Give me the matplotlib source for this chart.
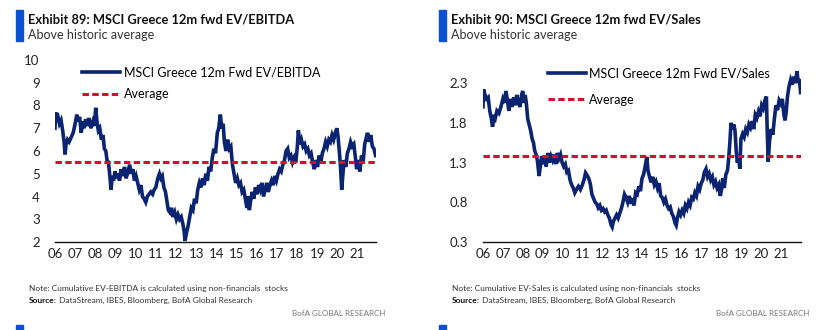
import matplotlib
matplotlib.use('Agg')
import matplotlib.pyplot as plt
from matplotlib.patches import Rectangle
from matplotlib.ticker import FormatStrFormatter

# MSCI Greece 12m fwd EV/EBITDA (decimal year, multiple)
ebitda_t = [
    2006.00, 2006.03, 2006.08, 2006.15, 2006.22, 2006.30, 2006.38, 2006.45, 2006.50, 2006.55,
    2006.62, 2006.70, 2006.80, 2006.90, 2007.00, 2007.08, 2007.15, 2007.22, 2007.30, 2007.38,
    2007.45, 2007.52, 2007.60, 2007.68, 2007.78, 2007.88, 2007.95, 2008.02, 2008.08, 2008.15,
    2008.22, 2008.30, 2008.38, 2008.45, 2008.52, 2008.58, 2008.65, 2008.72, 2008.78, 2008.84,
    2008.90, 2008.98, 2009.05, 2009.12, 2009.20, 2009.28, 2009.35, 2009.45, 2009.52, 2009.60,
    2009.70, 2009.78, 2009.86, 2009.94, 2010.02, 2010.10, 2010.18, 2010.26, 2010.34, 2010.42,
    2010.50, 2010.58, 2010.66, 2010.75, 2010.84, 2010.92, 2011.00, 2011.10, 2011.18, 2011.25,
    2011.32, 2011.40, 2011.48, 2011.55, 2011.62, 2011.70, 2011.78, 2011.86, 2011.94, 2012.02,
    2012.10, 2012.18, 2012.26, 2012.34, 2012.40, 2012.45, 2012.52, 2012.60, 2012.68, 2012.76,
    2012.84, 2012.92, 2013.00, 2013.08, 2013.16, 2013.24, 2013.32, 2013.40, 2013.48, 2013.56,
    2013.64, 2013.72, 2013.80, 2013.88, 2013.96, 2014.05, 2014.12, 2014.20, 2014.27, 2014.34,
    2014.40, 2014.48, 2014.56, 2014.64, 2014.72, 2014.80, 2014.88, 2014.96, 2015.04, 2015.12,
    2015.20, 2015.28, 2015.36, 2015.44, 2015.52, 2015.58, 2015.64, 2015.70, 2015.78, 2015.86,
    2015.94, 2016.02, 2016.10, 2016.18, 2016.26, 2016.34, 2016.42, 2016.50, 2016.58, 2016.66,
    2016.74, 2016.82, 2016.90, 2016.98, 2017.06, 2017.14, 2017.22, 2017.30, 2017.38, 2017.46,
    2017.54, 2017.62, 2017.70, 2017.78, 2017.86, 2017.94, 2018.02, 2018.07, 2018.14, 2018.22,
    2018.30, 2018.38, 2018.46, 2018.54, 2018.62, 2018.70, 2018.78, 2018.86, 2018.94, 2019.02,
    2019.10, 2019.18, 2019.26, 2019.34, 2019.42, 2019.50, 2019.58, 2019.66, 2019.74, 2019.82,
    2019.90, 2019.98, 2020.04, 2020.10, 2020.16, 2020.22, 2020.28, 2020.34, 2020.42, 2020.50,
    2020.58, 2020.66, 2020.74, 2020.82, 2020.90, 2020.96, 2021.04, 2021.12, 2021.20, 2021.28,
    2021.36, 2021.44, 2021.50, 2021.58, 2021.66, 2021.74, 2021.82, 2021.90,
]
ebitda_v = [
    7.0, 7.7, 7.4, 7.5, 7.2, 7.35, 6.9, 6.4, 5.85, 6.3,
    6.5, 6.4, 6.6, 6.8, 7.2, 7.6, 7.3, 7.5, 6.8, 7.3,
    7.0, 7.4, 7.1, 7.45, 7.0, 7.3, 7.1, 7.9, 7.3, 6.9,
    7.0, 6.5, 6.7, 6.1, 6.0, 5.6, 5.5, 4.9, 4.3, 4.9,
    4.7, 5.1, 4.8, 5.0, 4.7, 5.2, 4.9, 5.3, 4.8, 5.0,
    5.4, 5.0, 5.2, 4.7, 4.9, 4.6, 4.3, 4.5, 4.0, 3.9,
    3.75, 4.0, 4.1, 4.2, 4.1, 4.3, 4.4, 4.8, 5.0, 4.8,
    4.9, 4.4, 4.2, 3.8, 3.4, 3.3, 3.5, 3.1, 3.3, 3.0,
    3.2, 3.0, 3.1, 2.8, 2.5, 2.05, 2.4, 2.7, 3.1, 3.5,
    3.4, 3.9, 3.7, 4.3, 4.6, 4.4, 4.8, 4.5, 5.0, 4.7,
    5.3, 5.1, 5.7, 6.1, 5.9, 6.8, 7.0, 7.6, 7.0, 7.2,
    6.4, 6.0, 6.5, 6.1, 6.2, 5.4, 5.0, 4.6, 4.8, 4.5,
    4.6, 4.2, 4.3, 3.9, 3.5, 4.0, 3.4, 3.8, 4.2, 3.9,
    4.4, 4.1, 4.5, 4.3, 4.6, 4.0, 4.3, 4.6, 4.2, 4.5,
    4.7, 4.5, 4.9, 4.7, 5.0, 5.2, 5.1, 5.4, 5.6, 6.0,
    6.1, 5.7, 5.8, 5.5, 5.7, 5.5, 6.2, 6.9, 6.3, 6.5,
    6.2, 6.3, 6.0, 6.1, 5.8, 5.9, 5.5, 5.2, 5.6, 5.3,
    5.8, 5.5, 5.9, 6.1, 6.4, 6.2, 6.5, 6.4, 6.7, 6.5,
    6.8, 7.0, 6.6, 6.0, 5.3, 4.3, 5.0, 5.6, 5.3, 5.9,
    6.1, 6.4, 6.2, 6.3, 5.7, 5.2, 5.6, 5.1, 5.8, 5.5,
    6.3, 6.6, 6.8, 6.4, 6.7, 6.2, 6.1, 5.8,
]
ebitda_avg = 5.5

# MSCI Greece 12m fwd EV/Sales (decimal year, multiple)
sales_t = [
    2006.00, 2006.03, 2006.10, 2006.18, 2006.26, 2006.34, 2006.42, 2006.48, 2006.55, 2006.62,
    2006.70, 2006.80, 2006.90, 2007.00, 2007.08, 2007.15, 2007.22, 2007.30, 2007.38, 2007.46,
    2007.55, 2007.62, 2007.70, 2007.78, 2007.86, 2007.94, 2008.00, 2008.06, 2008.12, 2008.18,
    2008.25, 2008.32, 2008.40, 2008.47, 2008.54, 2008.60, 2008.67, 2008.74, 2008.82, 2008.88,
    2008.95, 2009.02, 2009.10, 2009.18, 2009.26, 2009.34, 2009.42, 2009.50, 2009.58, 2009.66,
    2009.74, 2009.82, 2009.90, 2009.98, 2010.06, 2010.14, 2010.22, 2010.30, 2010.38, 2010.46,
    2010.54, 2010.62, 2010.70, 2010.80, 2010.90, 2011.00, 2011.08, 2011.16, 2011.24, 2011.32,
    2011.40, 2011.48, 2011.56, 2011.64, 2011.72, 2011.80, 2011.88, 2011.96, 2012.04, 2012.12,
    2012.20, 2012.28, 2012.36, 2012.44, 2012.50, 2012.56, 2012.64, 2012.72, 2012.80, 2012.88,
    2012.96, 2013.04, 2013.12, 2013.20, 2013.28, 2013.36, 2013.44, 2013.52, 2013.60, 2013.68,
    2013.76, 2013.84, 2013.92, 2014.00, 2014.08, 2014.16, 2014.24, 2014.30, 2014.38, 2014.46,
    2014.54, 2014.62, 2014.70, 2014.78, 2014.86, 2014.94, 2015.02, 2015.10, 2015.18, 2015.26,
    2015.34, 2015.42, 2015.50, 2015.58, 2015.66, 2015.72, 2015.78, 2015.86, 2015.94, 2016.02,
    2016.10, 2016.18, 2016.26, 2016.34, 2016.42, 2016.50, 2016.58, 2016.66, 2016.74, 2016.82,
    2016.90, 2016.98, 2017.06, 2017.14, 2017.22, 2017.30, 2017.38, 2017.46, 2017.54, 2017.62,
    2017.70, 2017.78, 2017.86, 2017.94, 2018.00, 2018.06, 2018.14, 2018.22, 2018.30, 2018.36,
    2018.42, 2018.48, 2018.54, 2018.62, 2018.68, 2018.74, 2018.80, 2018.86, 2018.92, 2018.98,
    2019.06, 2019.14, 2019.22, 2019.30, 2019.38, 2019.46, 2019.54, 2019.62, 2019.70, 2019.78,
    2019.86, 2019.94, 2020.02, 2020.10, 2020.18, 2020.26, 2020.30, 2020.35, 2020.42, 2020.50,
    2020.58, 2020.66, 2020.74, 2020.82, 2020.90, 2020.98, 2021.06, 2021.14, 2021.20, 2021.26,
    2021.32, 2021.40, 2021.48, 2021.56, 2021.64, 2021.72, 2021.80, 2021.86, 2021.92, 2021.98,
]
sales_v = [
    2.0, 2.22, 2.15, 2.1, 2.12, 1.95, 1.85, 1.75, 1.9, 1.86,
    1.95, 1.92, 2.0, 2.1, 2.05, 2.2, 2.1, 1.95, 2.1, 2.0,
    2.12, 2.02, 2.15, 2.05, 2.0, 2.15, 2.2, 2.05, 2.15, 2.05,
    1.85, 1.78, 1.7, 1.6, 1.55, 1.45, 1.4, 1.32, 1.13, 1.25,
    1.38, 1.28, 1.35, 1.25, 1.42, 1.3, 1.38, 1.33, 1.4, 1.28,
    1.42, 1.35, 1.4, 1.3, 1.25, 1.28, 1.18, 1.2, 1.08, 1.02,
    0.98, 0.92, 0.96, 1.0, 0.96, 1.02, 1.08, 1.17, 1.14, 1.1,
    1.03, 0.9, 0.85, 0.8, 0.78, 0.73, 0.76, 0.7, 0.72, 0.68,
    0.7, 0.64, 0.6, 0.52, 0.49, 0.56, 0.6, 0.64, 0.6, 0.66,
    0.72, 0.8, 0.9, 0.86, 0.8, 0.88, 0.78, 0.85, 0.76, 0.92,
    0.9, 1.0, 0.94, 1.1, 1.15, 1.25, 1.37, 1.2, 1.12, 1.05,
    1.12, 1.02, 1.06, 0.98, 1.04, 0.88, 0.86, 0.8, 0.84, 0.76,
    0.72, 0.74, 0.66, 0.62, 0.54, 0.51, 0.6, 0.68, 0.64, 0.7,
    0.66, 0.76, 0.72, 0.8, 0.76, 0.86, 0.84, 0.92, 0.88, 1.0,
    0.96, 1.04, 1.08, 1.18, 1.22, 1.12, 1.16, 1.08, 1.12, 1.02,
    1.06, 0.98, 1.02, 0.88, 0.96, 1.1, 0.98, 1.15, 1.2, 1.35,
    1.55, 1.8, 1.72, 1.78, 1.7, 1.45, 1.3, 1.4, 1.22, 1.6,
    1.66, 1.62, 1.72, 1.68, 1.78, 1.74, 1.82, 1.72, 1.9, 1.86,
    1.94, 1.88, 2.02, 1.98, 2.08, 2.13, 1.7, 1.31, 1.58, 1.72,
    1.65, 1.85, 2.02, 1.96, 2.08, 2.04, 2.1, 1.9, 1.83, 1.95,
    2.13, 2.26, 2.34, 2.28, 2.38, 2.3, 2.45, 2.3, 2.35, 2.18,
]
sales_avg = 1.38

years = list(range(2006, 2022))
year_labels = [f'{y % 100:02d}' for y in years]

NAVY = '#0b2471'
RED = '#d0102f'
BLUE = '#0a50d2'

plt.rcParams['font.family'] = ['Lato', 'DejaVu Sans']

W, H = 830, 330
fig = plt.figure(figsize=(W / 100, H / 100), dpi=100)


def px_axes(x0, y0, x1, y1):
    # axes placed by pixel box (top-left origin)
    return fig.add_axes([x0 / W, 1 - y1 / H, (x1 - x0) / W, (y1 - y0) / H])


def ftext(x, y, s, **kw):
    return fig.text(x / W, 1 - y / H, s, **kw)


def panel(ax, t, v, avg, ylim, yticks, xmax, series_label, leg_anchor, leg_spacing):
    ax.plot(t, v, color=NAVY, lw=2.6, solid_joinstyle='miter', label=series_label)
    ax.axhline(avg, color=RED, lw=2.2, dashes=(2.1, 1.1), label='Average')
    ax.set_xlim(2006, xmax)
    ax.set_ylim(*ylim)
    ax.set_yticks(yticks)
    ax.set_xticks(years)
    ax.set_xticklabels(year_labels)
    for s in ('top', 'right', 'left'):
        ax.spines[s].set_visible(False)
    ax.spines['bottom'].set_color('#111111')
    ax.spines['bottom'].set_linewidth(1.0)
    ax.tick_params(axis='both', length=0, labelsize=9.5, colors='#222222')
    ax.tick_params(axis='y', pad=11)
    ax.tick_params(axis='x', pad=4)
    ax.legend(loc='upper left', bbox_to_anchor=leg_anchor, frameon=False,
              fontsize=9, handlelength=3.0, handletextpad=0.3,
              labelspacing=leg_spacing, borderaxespad=0, borderpad=0)


ax1 = px_axes(55, 60, 376, 242)
panel(ax1, ebitda_t, ebitda_v, ebitda_avg, (2, 10), range(2, 11), 2021.92,
      'MSCI Greece 12m Fwd EV/EBITDA', (0.085, 0.965), 0.8)
ax1.yaxis.set_major_formatter(FormatStrFormatter('%d'))

ax2 = px_axes(483, 60, 801, 242)
panel(ax2, sales_t, sales_v, sales_avg, (0.3, 2.59), [0.3, 0.8, 1.3, 1.8, 2.3], 2022.0,
      'MSCI Greece 12m Fwd EV/Sales', (0.205, 0.96), 1.15)

# header blocks, notes and footers for each exhibit
panels = [
    (16, 'Exhibit 89: MSCI Greece 12m fwd EV/EBITDA',
     'Note: Cumulative EV-EBITDA is calculated using non-financials  stocks', 385),
    (439, 'Exhibit 90: MSCI Greece 12m fwd EV/Sales',
     'Note: Cumulative EV-Sales is calculated using non-financials  stocks', 809),
]
sources = []
for bx, title, note, right in panels:
    fig.patches.append(Rectangle((bx / W, 1 - 41 / H), 6.5 / W, 31 / H,
                                 transform=fig.transFigure, color=BLUE, zorder=5))
    fig.patches.append(Rectangle((bx / W, 0), 6.5 / W, 5 / H,
                                 transform=fig.transFigure, color=BLUE, zorder=5))
    tx = bx + 12
    ftext(tx, 24, title, fontsize=9.3, fontweight='bold', color='#111111', va='baseline')
    ftext(tx, 39, 'Above historic average', fontsize=9, color='#333333', va='baseline')
    ftext(tx + 1, 290.5, note, fontsize=6.0, color='#333333', va='baseline')
    src = ftext(tx + 1, 303, 'Source:', fontsize=6.0, fontweight='bold', color='#111111',
                va='baseline')
    rest = ftext(tx + 1, 303, ' DataStream, IBES, Bloomberg, BofA Global Research',
                 fontsize=6.0, color='#333333', va='baseline')
    sources.append((src, rest))
    ftext(right, 316.5, 'BofA GLOBAL RESEARCH', fontsize=5.8, color='#777777',
          va='baseline', ha='right')

# place the source details right after the bold "Source:" label
fig.canvas.draw()
r = fig.canvas.get_renderer()
for src, rest in sources:
    bb = src.get_window_extent(r)
    rest.set_x(bb.x1 / W)

fig.savefig('out.png', dpi=100)
